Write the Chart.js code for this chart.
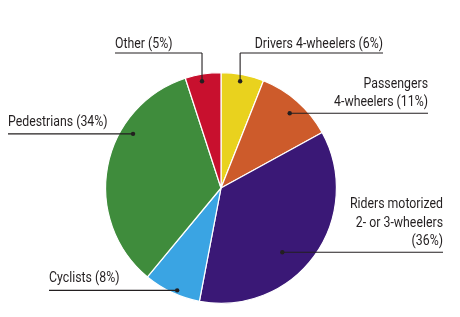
<!DOCTYPE html>
<html>
<head>
<meta charset="utf-8">
<script src="https://cdn.jsdelivr.net/npm/chart.js@4"></script>
<style>
html,body{margin:0;padding:0;background:#fff;}
#wrap{width:460px;height:317px;position:relative;}
</style>
</head>
<body>
<div id="wrap"><canvas id="c" width="460" height="317"></canvas></div>
<script>
const categories = ["Drivers 4-wheelers", "Passengers 4-wheelers", "Riders motorized 2- or 3-wheelers", "Cyclists", "Pedestrians", "Other"];
const values = [6, 11, 36, 8, 34, 5];
const labelLines = [
  ["Drivers 4-wheelers (6%)"],
  ["Passengers", "4-wheelers (11%)"],
  ["Riders motorized", "2- or 3-wheelers", "(36%)"],
  ["Cyclists (8%)"],
  ["Pedestrians (34%)"],
  ["Other (5%)"]
];
const colors = ["#E9D21E", "#CD5B2B", "#3A1876", "#3AA4E3", "#3F8C3C", "#C8102E"];

// label layout: t = fraction along slice angle, k = fraction of radius for dot
const layout = [
  {t:0.47, k:0.94, type:"top", lineY:53, textEnd:383, align:"right", gap:5},
  {t:0.53, k:0.88, type:"side", textEnd:428, align:"right", gap:7},
  {t:0.58, k:0.77, type:"side", textEnd:443, align:"right", gap:7},
  {t:0.43, k:0.965, type:"side", textEnd:49, align:"left", gap:8},
  {t:0.67, k:0.895, type:"side", textEnd:8, align:"left", gap:8},
  {t:0.44, k:0.94, type:"top", lineY:53, textEnd:115, align:"left", gap:5}
];

const FONT = '14px Roboto, "Liberation Sans", sans-serif';
const SX = 0.88;
const LINE_H = 18.5;

const labelPlugin = {
  id: 'leaderLabels',
  afterDraw(chart) {
    const ctx = chart.ctx;
    const meta = chart.getDatasetMeta(0);
    ctx.save();
    ctx.font = FONT;
    ctx.fillStyle = '#231f20';
    ctx.strokeStyle = '#231f20';
    ctx.lineWidth = 1.1;
    meta.data.forEach((arc, i) => {
      const L = layout[i];
      const p = arc.getProps(['x','y','startAngle','endAngle','outerRadius'], true);
      const a = p.startAngle + L.t * (p.endAngle - p.startAngle);
      const r = p.outerRadius * L.k;
      const dx = p.x + Math.cos(a) * r;
      const dy = p.y + Math.sin(a) * r;
      const lines = labelLines[i];
      let lineY;
      if (L.type === 'top') {
        lineY = L.lineY;
        ctx.beginPath();
        ctx.moveTo(dx, dy);
        ctx.lineTo(dx, lineY);
        ctx.stroke();
      } else {
        lineY = dy;
      }
      const x1 = Math.min(dx, L.textEnd);
      const x2 = Math.max(dx, L.textEnd);
      ctx.beginPath();
      ctx.moveTo(x1, lineY);
      ctx.lineTo(x2, lineY);
      ctx.stroke();
      ctx.beginPath();
      ctx.arc(dx, dy, 2.2, 0, Math.PI * 2);
      ctx.fill();
      ctx.textAlign = L.align;
      ctx.textBaseline = 'alphabetic';
      const n = lines.length;
      lines.forEach((s, j) => {
        const by = lineY - L.gap - (n - 1 - j) * LINE_H;
        ctx.save();
        ctx.translate(L.textEnd, by);
        ctx.scale(SX, 1);
        ctx.fillText(s, 0, 0);
        ctx.restore();
      });
    });
    ctx.restore();
  }
};

new Chart(document.getElementById('c'), {
  type: 'pie',
  data: {
    labels: categories,
    datasets: [{
      data: values,
      backgroundColor: colors,
      borderColor: '#ffffff',
      borderWidth: 1.2,
      hoverOffset: 0
    }]
  },
  options: {
    responsive: false,
    animation: false,
    events: [],
    layout: { padding: { top: 72, bottom: 13, left: 105, right: 123 } },
    plugins: { legend: { display: false }, tooltip: { enabled: false } }
  },
  plugins: [labelPlugin]
});
</script>
</body>
</html>
